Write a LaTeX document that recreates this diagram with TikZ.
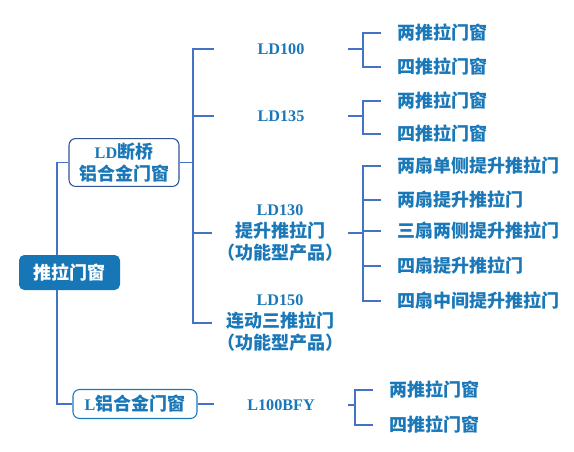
\documentclass[tikz,border=0pt]{standalone}
\usepackage{fontspec}
\setmainfont{Noto Sans CJK SC}
\newfontfamily\latn[Scale=0.9]{Liberation Serif}
\usetikzlibrary{positioning,calc}
\definecolor{rootblue}{HTML}{1676B6}
\definecolor{txtblue}{HTML}{1A78B8}
\definecolor{linkblue}{HTML}{4472C4}
\definecolor{boxnavy}{HTML}{2F5597}
\tikzset{
  link/.style={draw=linkblue, line width=0.9pt},
  rootbox/.style={fill=rootblue, text=white, rounded corners=4pt,
    minimum width=75.75pt, minimum height=26.25pt},
  groupbox/.style={draw=#1, fill=white, text=txtblue, rounded corners=5pt,
    line width=0.8pt, align=center},
  model/.style={text=txtblue, minimum width=100pt, align=center},
  leaf/.style={text=txtblue, anchor=west, inner xsep=12pt},
}
\begin{document}
\begin{tikzpicture}[x=0.75pt, y=-0.75pt, font=\bfseries\fontsize{13.5}{16.3}\selectfont]
\useasboundingbox (0,0) rectangle (574,452);
% junction columns
\coordinate (rj) at (57,0);
\coordinate (mj) at (193,0);
\coordinate (ja) at (363,0);
\coordinate (jb) at (355,0);
% root and groups
\node[rootbox] (root) at (69.5,272.5) {推拉门窗};
\node[groupbox=boxnavy, minimum width=82.5pt, minimum height=33.75pt] (ld) at (124,162.5) {{\latn LD}断桥\\铝合金门窗};
\node[groupbox=txtblue, minimum width=93pt, minimum height=21.75pt] (lb) at (135,404) {{\latn L}铝合金门窗};
% models
\node[model] (m1) at (281,49) {\latn LD100};
\node[model] (m2) at (281,116) {\latn LD135};
\node[model] (m3) at (280,233) {{\latn LD130}\\提升推拉门\\（功能型产品）};
\node[model] (m4) at (280,323) {{\latn LD150}\\连动三推拉门\\（功能型产品）};
\node[model] (m5) at (281,405) {\latn L100BFY};
% leaves
\foreach \nm/\y/\txt in {a1/33/两推拉门窗, a2/67/四推拉门窗,
    b1/101/两推拉门窗, b2/134/四推拉门窗,
    c1/166/两扇单侧提升推拉门, c2/200/两扇提升推拉门, c3/231/三扇两侧提升推拉门,
    c4/266/四扇提升推拉门, c5/301/四扇中间提升推拉门}
  \node[leaf] (\nm) at (381,\y) {\txt};
\node[leaf] (d1) at (373,390) {两推拉门窗};
\node[leaf] (d2) at (373,425) {四推拉门窗};
% connectors
\draw[link] (ld.west) -| (rj |- root.north);
\draw[link] (lb.west) -| (rj |- root.south);
\draw[link] (ld.east) -- (mj |- ld.east);
\draw[link] (m1.west) -| (mj |- m4.west) -- (m4.west);
\foreach \m in {m2,m3}
  \draw[link] (mj |- \m.west) -- (\m.west);
\draw[link] (lb.east) -- (lb.east -| m5.west);
\draw[link] (m1.east) -- (m1.east -| ja);
\draw[link] (a1.west) -| (ja |- a2.west) -- (a2.west);
\draw[link] (m2.east) -- (m2.east -| ja);
\draw[link] (b1.west) -| (ja |- b2.west) -- (b2.west);
\draw[link] (m3.east) -- (m3.east -| ja);
\draw[link] (c1.west) -| (ja |- c5.west) -- (c5.west);
\foreach \c in {c2,c3,c4}
  \draw[link] (ja |- \c.west) -- (\c.west);
\draw[link] (m5.east) -- (m5.east -| jb);
\draw[link] (d1.west) -| (jb |- d2.west) -- (d2.west);
\end{tikzpicture}
\end{document}
